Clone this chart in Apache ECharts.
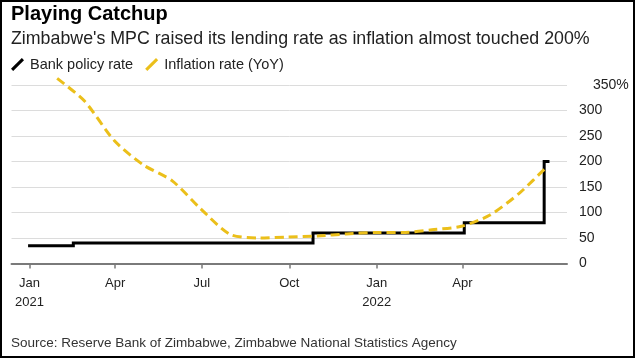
<!DOCTYPE html>
<html>
<head>
<meta charset="utf-8">
<script src="https://cdn.jsdelivr.net/npm/echarts@6/dist/echarts.min.js"></script>
<style>
  html, body { margin: 0; padding: 0; background: #fff; }
  #chart { width: 636px; height: 360px; }
</style>
</head>
<body>
<div id="chart"></div>
<script>
const titleText = 'Playing Catchup';
const subtitleText = "Zimbabwe's MPC raised its lending rate as inflation almost touched 200%";
const sourceText = 'Source: Reserve Bank of Zimbabwe, Zimbabwe National Statistics Agency';
const seriesNames = ['Bank policy rate', 'Inflation rate (YoY)'];

const policyDates = ['2021-01-01', '2021-02-16', '2021-10-26', '2022-04-03', '2022-06-26', '2022-06-30'];
const policyValues = [35, 40, 60, 80, 200, 200];

const inflationDates = ['2021-01-30', '2021-02-28', '2021-03-31', '2021-04-30', '2021-05-31', '2021-06-30',
  '2021-07-31', '2021-08-31', '2021-09-30', '2021-10-31', '2021-11-30', '2021-12-31',
  '2022-01-31', '2022-02-28', '2022-03-31', '2022-04-30', '2022-05-31', '2022-06-30'];
const inflationValues = [363, 318, 241, 194, 162, 107, 57, 50, 52, 54, 58, 61, 61, 66, 73, 95, 138, 192];

const tickDates = ['2021-01-01', '2021-04-01', '2021-07-01', '2021-10-01', '2022-01-01', '2022-04-01'];
const tickLabels = ['Jan\n2021', 'Apr', 'Jul', 'Oct', 'Jan\n2022', 'Apr'];

const yTop = 350;
const yStep = 50;

const FONT = 'Liberation Sans, Arial, sans-serif';
const YELLOW = '#ebbf1a';
const DAY = 86400000;

function ts(s) {
  const p = s.split('-').map(Number);
  return Date.UTC(p[0], p[1] - 1, p[2]) / DAY;
}
const tickTs = tickDates.map(ts);

const chart = echarts.init(document.getElementById('chart'), null, { renderer: 'canvas' });

const option = {
  animation: false,
  backgroundColor: '#fff',
  textStyle: { fontFamily: FONT },
  grid: { left: 11.5, right: 69, top: 85, bottom: 96.5, containLabel: false },
  legend: {
    left: 11,
    top: 57,
    padding: 0,
    itemWidth: 13,
    itemHeight: 13,
    itemGap: 12,
    textStyle: { fontFamily: FONT, fontSize: 14.5, color: '#222', padding: [0, 0, 0, 1] },
    data: [
      { name: seriesNames[0], icon: 'path://M0,10 L10,0 L12,2 L2,12 Z', itemStyle: { color: '#000' } },
      { name: seriesNames[1], icon: 'path://M0,10 L10,0 L12,2 L2,12 Z', itemStyle: { color: YELLOW } }
    ]
  },
  xAxis: {
    type: 'value',
    min: ts('2020-12-13'),
    max: ts('2022-07-20'),
    axisLine: { show: true, lineStyle: { color: '#7a7a7a', width: 2 } },
    axisTick: { show: true, length: 5, lineStyle: { color: '#7a7a7a', width: 1.5 }, customValues: tickTs },
    axisLabel: {
      customValues: tickTs,
      fontFamily: FONT,
      fontSize: 13,
      lineHeight: 19,
      color: '#222',
      margin: 10,
      formatter: function (v) {
        let best = 0, bd = Infinity;
        tickTs.forEach(function (t, i) { const d = Math.abs(t - v); if (d < bd) { bd = d; best = i; } });
        return tickLabels[best];
      }
    },
    splitLine: { show: false }
  },
  yAxis: {
    type: 'value',
    position: 'right',
    min: 0,
    max: yTop,
    interval: yStep,
    axisLine: { show: false },
    axisTick: { show: false },
    splitLine: { show: true, lineStyle: { color: '#dcdcdc', width: 1 } },
    axisLabel: {
      fontFamily: FONT,
      fontSize: 14,
      color: '#222',
      margin: 12,
      formatter: function (v) { return v === yTop ? '{top|' + v + '%}' : String(v); },
      rich: { top: { fontFamily: FONT, fontSize: 14, color: '#222', padding: [0, 0, 0, 14] } }
    }
  },
  series: [
    {
      name: seriesNames[0],
      type: 'line',
      step: 'end',
      showSymbol: false,
      symbol: 'none',
      clip: false,
      color: '#000',
      lineStyle: { color: '#000', width: 3, cap: 'square', join: 'miter' },
      data: policyDates.map(function (d, i) { return [ts(d), policyValues[i]]; }),
      z: 2
    },
    {
      name: seriesNames[1],
      type: 'line',
      smooth: 0.25,
      showSymbol: false,
      symbol: 'none',
      clip: false,
      color: YELLOW,
      lineStyle: { color: YELLOW, width: 3, type: [9, 5] },
      data: inflationDates.map(function (d, i) { return [ts(d), inflationValues[i]]; }),
      z: 3
    }
  ],
  graphic: [
    { type: 'text', left: 11, top: 4.5, style: { text: titleText, fontFamily: FONT, fontWeight: 'bold', fontSize: 20, fill: '#000' } },
    { type: 'text', left: 11, top: 30, style: { text: subtitleText, fontFamily: FONT, fontSize: 17.8, fill: '#222' } },
    { type: 'text', left: 11, top: 336, style: { text: sourceText, fontFamily: FONT, fontSize: 13.5, fill: '#333' } },
    { type: 'rect', shape: { x: 1, y: 1, width: 633, height: 356 }, style: { fill: 'none', stroke: '#000', lineWidth: 2 }, silent: true, z: 100 }
  ]
};

chart.setOption(option);
</script>
</body>
</html>
